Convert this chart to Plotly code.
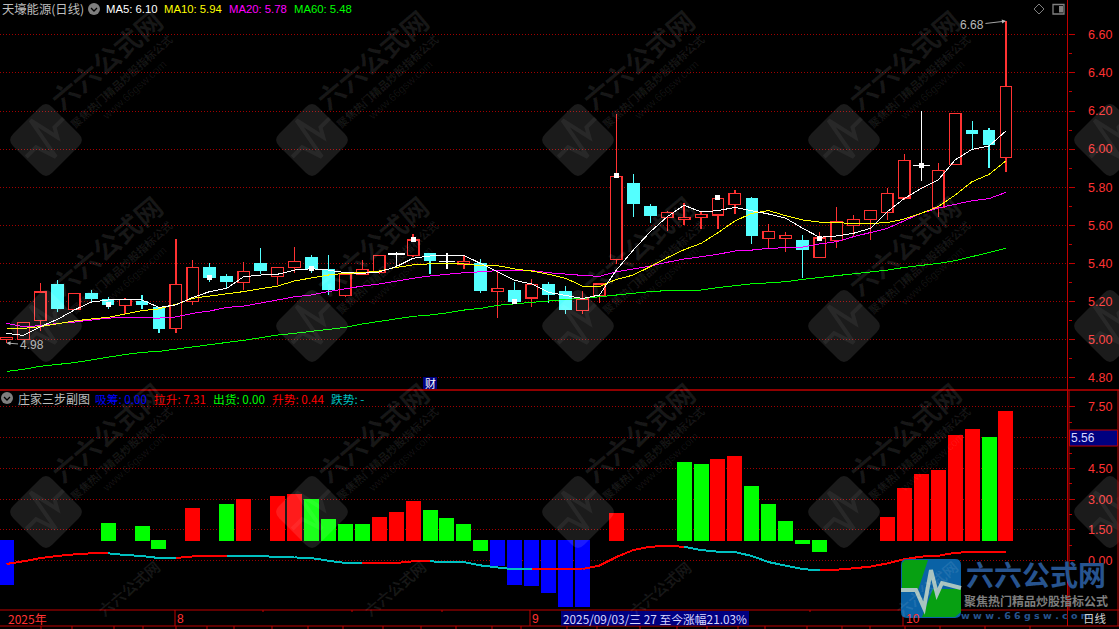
import plotly.graph_objects as go

W, H = 1119, 629

# ---------- DATA ----------
days = list(range(60))
opens = [5.00,5.00,5.10,5.29,5.159,5.245,5.213,5.178,5.203,5.173,5.057,5.20,5.381,5.334,5.299,5.402,5.33,5.378,5.434,5.371,
         5.23,5.342,5.351,5.45,5.44,5.454,5.41,5.397,5.402,5.251,5.26,5.218,5.292,5.255,5.152,5.23,5.419,5.822,5.701,5.64,
         5.63,5.64,5.655,5.708,5.743,5.53,5.53,5.523,5.43,5.519,5.598,5.631,5.666,5.743,5.913,5.694,5.918,6.10,6.10,5.956]
closes = [5.012,5.09,5.25,5.16,5.243,5.213,5.182,5.211,5.182,5.056,5.29,5.379,5.323,5.302,5.358,5.36,5.379,5.411,5.369,5.26,
          5.344,5.369,5.442,5.45,5.523,5.412,5.41,5.411,5.255,5.269,5.20,5.29,5.234,5.155,5.213,5.292,5.857,5.712,5.649,5.668,
          5.642,5.658,5.741,5.768,5.546,5.568,5.547,5.472,5.533,5.62,5.631,5.678,5.768,5.941,5.913,5.888,6.187,6.08,6.021,6.329]
highs = [5.012,5.09,5.295,5.313,5.243,5.26,5.222,5.217,5.234,5.173,5.528,5.418,5.40,5.344,5.407,5.48,5.379,5.486,5.444,5.444,
         5.344,5.418,5.442,5.46,5.553,5.454,5.453,5.439,5.423,5.357,5.302,5.318,5.302,5.281,5.253,5.292,6.184,5.869,5.712,5.673,
         5.717,5.673,5.741,5.785,5.75,5.607,5.565,5.549,5.565,5.696,5.654,5.678,5.798,5.974,6.20,5.927,6.187,6.147,6.11,6.674]
lows = [4.982,5.00,5.047,5.147,5.159,5.19,5.16,5.133,5.16,5.036,5.035,5.182,5.304,5.269,5.26,5.343,5.287,5.348,5.348,5.234,
        5.222,5.342,5.347,5.383,5.434,5.344,5.37,5.37,5.245,5.115,5.20,5.171,5.194,5.134,5.134,5.192,5.399,5.644,5.612,5.57,
        5.60,5.58,5.58,5.66,5.502,5.481,5.462,5.325,5.43,5.483,5.544,5.523,5.628,5.732,5.832,5.643,5.918,5.999,5.902,5.881]

ma5 = [5.033,5.022,5.068,5.106,5.155,5.197,5.208,5.208,5.208,5.169,5.182,5.222,5.252,5.269,5.33,5.339,5.343,5.365,5.372,5.365,
       5.351,5.348,5.355,5.383,5.427,5.439,5.444,5.442,5.40,5.356,5.311,5.292,5.248,5.23,5.216,5.234,5.365,5.47,5.566,5.645,
       5.705,5.67,5.677,5.694,5.677,5.659,5.637,5.584,5.537,5.544,5.558,5.584,5.672,5.741,5.794,5.838,5.943,5.999,6.016,6.095]
ma10 = [5.059,5.059,5.068,5.085,5.098,5.108,5.117,5.134,5.152,5.161,5.185,5.217,5.229,5.239,5.252,5.267,5.281,5.308,5.323,5.339,
        5.348,5.351,5.36,5.379,5.392,5.398,5.40,5.397,5.388,5.388,5.371,5.36,5.343,5.322,5.281,5.278,5.316,5.339,5.383,5.43,
        5.472,5.505,5.561,5.623,5.663,5.677,5.65,5.628,5.617,5.612,5.61,5.61,5.614,5.633,5.663,5.698,5.759,5.829,5.867,5.938]
ma20 = [5.085,5.068,5.073,5.085,5.092,5.101,5.113,5.115,5.115,5.113,5.119,5.138,5.15,5.169,5.176,5.19,5.208,5.225,5.234,5.252,
        5.267,5.281,5.292,5.308,5.322,5.334,5.344,5.351,5.356,5.362,5.364,5.362,5.351,5.343,5.337,5.332,5.356,5.371,5.386,5.406,
        5.423,5.435,5.448,5.465,5.47,5.479,5.483,5.486,5.502,5.514,5.54,5.563,5.584,5.624,5.663,5.691,5.712,5.729,5.74,5.773]
ma60 = [4.833,4.844,4.86,4.87,4.879,4.893,4.908,4.922,4.933,4.938,4.95,4.963,4.975,4.985,4.996,5.01,5.024,5.033,5.043,5.054,
        5.064,5.082,5.095,5.106,5.122,5.129,5.14,5.155,5.164,5.18,5.189,5.196,5.203,5.211,5.216,5.225,5.234,5.246,5.252,5.257,
        5.259,5.26,5.273,5.285,5.293,5.298,5.304,5.316,5.326,5.333,5.344,5.353,5.365,5.379,5.388,5.4,5.414,5.435,5.456,5.479]

mark_days = [6,12,18,24,30,36,42,48,54]
mark_prices = [5.182,5.325,5.371,5.523,5.20,5.859,5.745,5.533,5.913]

rise_days = [11,14,16,17,22,23,24,36,42,43,52,53,54,55,56,57,59]
rise_tops = [2.55,2.99,3.14,3.24,2.11,2.36,2.89,2.31,4.94,5.09,2.11,3.53,4.21,4.41,6.11,6.41,7.31]
ship_days = [6,8,13,18,19,20,21,25,26,27,40,41,44,45,46,58]
ship_tops = [1.82,1.67,2.75,2.99,2.02,1.77,1.77,2.46,2.07,1.77,4.80,4.70,3.63,2.75,1.92,6.02]
fall_days = [9,28,47,48]
fall_lows = [0.55,0.46,0.80,0.41]
absorb_days = [0,29,30,31,32,33,34]
absorb_lows = [-1.2,-0.28,-1.2,-1.25,-1.59,-2.28,-2.28]
bar_base_up = 0.95
bar_base_down = 1.0

trend = [-0.16,-0.03,0.13,0.23,0.31,0.36,0.36,0.28,0.23,0.13,0.13,0.21,0.23,0.23,0.23,0.23,0.18,0.16,0.13,0.0,
         -0.11,-0.13,-0.13,-0.11,-0.03,-0.03,-0.07,-0.07,-0.23,-0.33,-0.42,-0.42,-0.42,-0.42,-0.41,-0.24,0.18,0.52,0.68,0.72,
         0.68,0.52,0.44,0.42,0.23,-0.07,-0.24,-0.41,-0.47,-0.44,-0.37,-0.29,-0.13,0.07,0.2,0.24,0.39,0.42,0.42,0.44]
trend_up = [1]*6+[0]*4+[1]*3+[0]*8+[1]*4+[0]*6+[1]*9+[0]*8+[1]*11

main_ticks = [4.8,5.0,5.2,5.4,5.6,5.8,6.0,6.2,6.4,6.6]
main_minor = [4.9,5.1,5.3,5.5,5.7,5.9,6.1,6.3,6.5]
main_labels = ["4.80","5.00","5.20","5.40","5.60","5.80","6.00","6.20","6.40","6.60"]
sub_ticks = [0,1.5,3,4.5,6,7.5]
sub_minor = [0.75,2.25,3.75,5.25,6.75]
sub_labels = ["0.00","1.50","3.00","4.50","","7.50"]

# ---------- COLOURS ----------
RED, CYAN, BLACK = "#ff3232", "#54ffff", "#000000"
FRAME = "#c00000"
GRID = "#a00000"
LATIN = "Liberation Sans, Noto Sans CJK SC"
CJK = "Noto Sans CJK SC, Liberation Sans"

fig = go.Figure()

# ---------- candles ----------
up = [i for i in days if closes[i] > opens[i]]
down = [i for i in days if closes[i] < opens[i]]
flat = [i for i in days if closes[i] == opens[i]]

def wick_xy(idx):
    xs, ys = [], []
    for i in idx:
        xs += [i, i, None, i, i, None]
        ys += [lows[i], min(opens[i], closes[i]), None, max(opens[i], closes[i]), highs[i], None]
    return xs, ys

for idx, col, w in ((up, RED, 1.3), (down, CYAN, 1.1), (flat, "#ffffff", 1.2)):
    xs, ys = wick_xy(idx)
    fig.add_trace(go.Scatter(x=xs, y=ys, mode="lines", line=dict(color=col, width=w), xaxis="x", yaxis="y", hoverinfo="skip"))

fig.add_trace(go.Bar(x=up, y=[closes[i]-opens[i] for i in up], base=[opens[i] for i in up], width=0.68,
                     marker=dict(color=BLACK, line=dict(color=RED, width=1.4)), xaxis="x", yaxis="y"))
fig.add_trace(go.Bar(x=down, y=[closes[i]-opens[i] for i in down], base=[opens[i] for i in down], width=0.75,
                     marker=dict(color=CYAN, line=dict(width=0)), xaxis="x", yaxis="y"))
fig.add_trace(go.Scatter(x=flat, y=[closes[i] for i in flat], mode="markers", xaxis="x", yaxis="y",
                         marker=dict(symbol="line-ew", size=12, line=dict(color="#ffffff", width=1.6))))

for vals, col in ((ma60, "#00ff00"), (ma20, "#ff00ff"), (ma10, "#ffff00"), (ma5, "#ffffff")):
    fig.add_trace(go.Scatter(x=days, y=vals, mode="lines", line=dict(color=col, width=1), xaxis="x", yaxis="y"))

fig.add_trace(go.Scatter(x=mark_days, y=mark_prices, mode="markers", xaxis="x", yaxis="y",
                         marker=dict(symbol="square", size=5, color="#ffffff", line=dict(width=0))))

# ---------- sub panel ----------
for ds, tops, base, col in ((rise_days, rise_tops, bar_base_up, "#ff0000"),
                            (ship_days, ship_tops, bar_base_up, "#00ff00"),
                            (fall_days, fall_lows, bar_base_down, "#00ff00"),
                            (absorb_days, absorb_lows, bar_base_down, "#0000ff")):
    fig.add_trace(go.Bar(x=ds, y=[t-base for t in tops], base=[base]*len(ds), width=0.885,
                         marker=dict(color=col, line=dict(width=0)), xaxis="x2", yaxis="y2"))

for flag, col in ((1, "#ff0000"), (0, "#00c0c0")):
    xs, ys = [], []
    for i, f in enumerate(trend_up):
        if f == flag:
            xs += [i, i+1, None]
            ys += [trend[i], trend[i+1], None]
    fig.add_trace(go.Scatter(x=xs, y=ys, mode="lines", line=dict(color=col, width=2), xaxis="x2", yaxis="y2"))

# ---------- helpers in canvas pixels ----------
def px(x): return x / W
def py(y): return 1 - y / H
shapes, notes = [], []

def text(x, y, s, size=12, color="#c0c0c0", anchor="left", family=LATIN, angle=0, weight=None, bg=None):
    d = dict(xref="paper", yref="paper", x=px(x), y=py(y), text=s, showarrow=False, xanchor=anchor, yanchor="middle",
             font=dict(size=size, color=color, family=family), textangle=angle, borderpad=0)
    if weight: d["font"]["weight"] = weight
    if bg: d["bgcolor"] = bg
    notes.append(d)

def hline(y, x0=0, x1=W, color=FRAME, width=1):
    shapes.append(dict(type="line", xref="paper", yref="paper", x0=px(x0), x1=px(x1), y0=py(y), y1=py(y), line=dict(color=color, width=width)))
def vline(x, y0=0, y1=H, color=FRAME, width=1):
    shapes.append(dict(type="line", xref="paper", yref="paper", x0=px(x), x1=px(x), y0=py(y0), y1=py(y1), line=dict(color=color, width=width)))
def rect(x0, y0, x1, y1, fill, line=None, width=0):
    shapes.append(dict(type="rect", xref="paper", yref="paper", x0=px(x0), x1=px(x1), y0=py(y0), y1=py(y1), fillcolor=fill,
                       line=dict(color=line or fill, width=width)))
def path(points, closed=True, fill=None, line=None, width=0):
    d = "M" + " L".join(f"{px(a):.5f},{py(b):.5f}" for a, b in points) + (" Z" if closed else "")
    shapes.append(dict(type="path", xref="paper", yref="paper", path=d, fillcolor=fill if fill else "rgba(0,0,0,0)",
                       line=dict(color=line if line else "rgba(0,0,0,0)", width=width)))

def rounded(cx, cy, verts, t=0.16, fill="#333"):
    n = len(verts); parts = []
    for k in range(n):
        vx, vy = verts[k]
        ax, ay = verts[k-1]; bx, by = verts[(k+1) % n]
        inx, iny = vx+t*(ax-vx), vy+t*(ay-vy)
        outx, outy = vx+t*(bx-vx), vy+t*(by-vy)
        parts.append(("M" if k == 0 else "L") + f"{px(cx+inx):.5f},{py(cy+iny):.5f}")
        parts.append(f"Q{px(cx+vx):.5f},{py(cy+vy):.5f} {px(cx+outx):.5f},{py(cy+outy):.5f}")
    shapes.append(dict(type="path", xref="paper", yref="paper", path=" ".join(parts)+" Z", fillcolor=fill, line=dict(width=0, color=fill)))

# ---------- watermark ----------
WM = "rgba(255,255,255,0.105)"
WMT = "rgba(255,255,255,0.09)"
pulse_local = [(-26,-2),(-12,-2),(-5,19),(3,-25),(10,6),(15,-3),(28,-3)]
for cx in (46, 312, 578, 844, 1110):
    for cy in (140, 326, 512):
        R = 39
        rounded(cx, cy, [(0,-R),(R,0),(0,R),(-R,0)], fill=WM)
        pts = [(cx+(a+b)*0.707, cy+(b-a)*0.707) for a, b in pulse_local]
        path(pts, closed=False, line="rgba(255,255,255,0.06)", width=4)
        if cx < 1000:
            text(cx+60, cy-80, "六六公式网", size=27, color=WMT, anchor="center", family=CJK, angle=-40, weight=700)
            text(cx+75, cy-59, "聚焦热门精品炒股指标公式", size=11, color=WMT, anchor="center", family=CJK, angle=-42, weight=700)
            text(cx+88, cy-50, "www.66gsw.com", size=11, color="rgba(255,255,255,0.08)", anchor="center", angle=-42)
    if cx < 1000:
        text(cx+82, 588, "六六公式网", size=15, color=WMT, anchor="center", family=CJK, angle=-40, weight=700)

# ---------- frame ----------
hline(390, width=1.5)
hline(610)
hline(626)
vline(1067.5, 0, 626)
vline(1069, 390, 610, width=1)
vline(1118, 390, 626)
vline(175, 610, 626)
vline(530, 610, 626)
vline(903, 610, 626)
for x in (41,72,114,143,176,207,234,272,308,343,383,421,456,492,521,567,597,640,677,707,738,765,807,842,870,905,940,985,1030):
    vline(x, 626, 629)
for x in (263, 352, 442, 810):
    vline(x, 610, 612)

# ---------- header ----------
def icon(cx, cy):
    shapes.append(dict(type="circle", xref="paper", yref="paper", x0=px(cx-6), x1=px(cx+6), y0=py(cy+6), y1=py(cy-6),
                       fillcolor="#7f7f7f", line=dict(width=0, color="#7f7f7f")))
    path([(cx-3, cy-1), (cx, cy+2), (cx+3, cy-1)], closed=False, line="#000000", width=1.3)

text(1, 9, "天壕能源(日线)", size=12.3, color="#bdbdbd", family=CJK)
icon(94, 9)
text(105, 9, "MA5: 6.10", size=11.3, color="#ffffff")
text(163, 9, "MA10: 5.94", size=11.3, color="#ffff00")
text(228, 9, "MA20: 5.78", size=11.3, color="#ff00ff")
text(293, 9, "MA60: 5.48", size=11.3, color="#00ff00")

icon(7, 398)
text(17, 398, "庄家三步副图", size=12, color="#bdbdbd", family=CJK)
text(94, 398, "吸筹: 0.00", size=11.7, color="#0000ff", family=CJK)
text(153, 398, "拉升: 7.31", size=11.7, color="#ff0000", family=CJK)
text(212, 398, "出货: 0.00", size=11.7, color="#00ff00", family=CJK)
text(271, 398, "升势: 0.44", size=11.7, color="#ff0000", family=CJK)
text(330, 398, "跌势: -", size=11.7, color="#00c0c0", family=CJK)

# top-right icons
path([(1039,4),(1044,9),(1039,14),(1034,9)], line="#808080", width=1)
rect(1053, 4.5, 1064, 14, "rgba(0,0,0,0)", line="#808080", width=1.3)
rect(1059, 6, 1063, 12.5, "#808080")

# cai badge
rect(423, 377, 437, 389, "#000080")
text(430, 383, "财", size=11, color="#ffffff", anchor="center", family=CJK)

# value box and date box
rect(1069.5, 430, 1117.5, 446, "#000080", line=FRAME, width=1)
text(1070, 438, "5.56", size=12, color="#d8d8ff")
rect(561, 611, 749, 625.5, "#000080")
text(562, 618.5, "2025/09/03/三 27 至今涨幅21.03%", size=11.8, color="#d8d8ff", family=CJK)

# axis labels along the date band
text(7, 618.5, "2025年", size=12, color=RED, family=CJK)
text(176, 618.5, "8", size=12, color=RED)
text(531, 618.5, "9", size=12, color=RED)
text(905, 618.5, "10", size=12, color=RED)

# ---------- corner logo ----------
rounded(0, 0, [(901,559),(961,559),(961,618),(901,618)], t=0.1, fill="#0a62a6")
path([(905,560),(928,560),(918,590),(902,590),(902,563)], fill="#07a012")
path([(933,589),(961,589),(961,612),(955,617),(922,617)], fill="#07a012")
path([(901,590),(916,590),(924,608),(931,570),(937,594),(942,583),(961,588)], closed=False, line="#a9c4c0", width=4)
text(1036, 574, "六六公式网", size=28, color="#27548f", anchor="center", family=CJK, weight=700)
text(1036, 600, "聚焦热门精品炒股指标公式", size=12, color="#7d7d7d", anchor="center", family=CJK, weight=700)
text(1026, 615, "w w w . 6 6 g s w . c o m", size=9.5, color="#27548f", anchor="center", family="DejaVu Sans", weight=700)
text(1082, 618, "日线", size=11.5, color="#d0d0d0", family=CJK)

# ---------- high / low call-outs ----------
notes.append(dict(xref="x", yref="y", x=59, y=6.672, text="6.68", showarrow=True, ax=-34, ay=4, arrowhead=2, arrowsize=0.9,
                  arrowwidth=0.9, arrowcolor="#b8b8b8", font=dict(size=12, color="#b8b8b8", family=LATIN)))
notes.append(dict(xref="x", yref="y", x=0, y=4.982, text="4.98", showarrow=True, ax=25, ay=2, arrowhead=2, arrowsize=0.9,
                  arrowwidth=0.9, arrowcolor="#b8b8b8", font=dict(size=12, color="#b8b8b8", family=LATIN)))

# ---------- layout ----------
xr = [(0-6.5)/16.94, (1067.5-6.5)/16.94]
axis_y = dict(side="right", showline=False, ticks="outside", ticklen=6, tickwidth=1, tickcolor=FRAME,
              tickfont=dict(size=12.5, color=RED, family=LATIN), ticklabelstandoff=11,
              showgrid=True, griddash="1px,2px", gridcolor=GRID, gridwidth=1, zeroline=False, tickmode="array",
              anchor="x")
fig.update_layout(
    width=W, height=H, margin=dict(l=0, r=0, t=0, b=0), paper_bgcolor=BLACK, plot_bgcolor="rgba(0,0,0,0)",
    showlegend=False, barmode="overlay", hovermode=False,
    xaxis=dict(domain=[0, 1067.5/W], range=xr, visible=False, anchor="y"),
    xaxis2=dict(domain=[0, 1067.5/W], range=xr, visible=False, anchor="y2", matches="x"),
    yaxis=dict(axis_y, domain=[py(390), py(0)], range=[5-50.4/190.5, 5+339.6/190.5], tickvals=main_ticks, ticktext=main_labels,
               minor=dict(tickmode="array", tickvals=main_minor, ticks="outside", ticklen=3, tickcolor=FRAME, showgrid=False)),
    yaxis2=dict(axis_y, anchor="x2", domain=[py(610), py(390)], range=[(560.7-610)/20.5, (560.7-390)/20.5], tickvals=sub_ticks, ticktext=sub_labels,
               minor=dict(tickmode="array", tickvals=sub_minor, ticks="outside", ticklen=3, tickcolor=FRAME, showgrid=False)),
    shapes=shapes, annotations=notes,
)

fig.write_html("out.html", config=dict(displayModeBar=False),
               post_script="document.body.style.margin='0';document.body.style.background='#000';document.body.style.overflow='hidden';"
                           "var s=document.createElement('style');s.textContent='.gridlayer path,.scatterlayer path,.barlayer path,.ytick path,.crisp{shape-rendering:crispEdges}';document.head.appendChild(s);")
